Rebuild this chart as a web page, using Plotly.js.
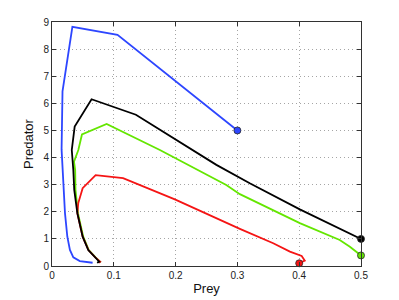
<!DOCTYPE html>
<html>
<head>
<meta charset="utf-8">
<script src="https://cdn.plot.ly/plotly-3.0.1.min.js"></script>
<style>html,body{margin:0;padding:0;background:#fff;}#chart{width:399px;height:300px;}</style>
</head>
<body>
<div id="chart"></div>
<script>
// Trajectories (Prey, Predator)
const blueX = [0.3, 0.106, 0.033, 0.017, 0.0155, 0.0173, 0.0183, 0.021, 0.0248, 0.029, 0.0345, 0.045, 0.0657];
const blueY = [5.0, 8.53, 8.82, 6.44, 4.3, 3.54, 2.81, 1.95, 1.08, 0.59, 0.32, 0.18, 0.12];

const blackX = [0.5, 0.401, 0.32, 0.266, 0.1358, 0.064, 0.0367, 0.032, 0.0345, 0.036, 0.041, 0.0496, 0.0587, 0.0695, 0.0765, 0.073];
const blackY = [1.0, 2.09, 3.05, 3.73, 5.58, 6.15, 5.14, 4.28, 3.54, 2.81, 1.95, 1.08, 0.59, 0.32, 0.16, 0.12];

const greenX = [0.5, 0.482, 0.4656, 0.401, 0.304, 0.282, 0.1746, 0.0884, 0.0485, 0.0426, 0.0356, 0.0375, 0.038, 0.042, 0.0505, 0.0595, 0.0705, 0.0775, 0.074];
const greenY = [0.39, 0.71, 0.96, 1.58, 2.65, 2.99, 4.28, 5.24, 4.85, 4.28, 3.85, 3.54, 2.81, 1.95, 1.08, 0.59, 0.32, 0.16, 0.13];

const redX = [0.4, 0.409, 0.404, 0.385, 0.358, 0.304, 0.1988, 0.115, 0.0706, 0.0496, 0.0425, 0.041, 0.0496, 0.059, 0.07, 0.078, 0.076];
const redY = [0.1, 0.2, 0.37, 0.53, 0.84, 1.37, 2.46, 3.24, 3.35, 2.87, 2.32, 1.95, 1.08, 0.59, 0.32, 0.16, 0.12];

const xTicks = [0, 0.1, 0.2, 0.3, 0.4, 0.5];
const xTickText = ['0', '0.1', '0.2', '0.3', '0.4', '0.5'];
const yTicks = [0, 1, 2, 3, 4, 5, 6, 7, 8, 9];

const BLUE = 'rgb(45,70,255)';
const BLACK = 'rgb(0,0,0)';
const GREEN = 'rgb(100,230,0)';
const RED = 'rgb(245,20,20)';

function line(x, y, c) {
  return {x: x, y: y, mode: 'lines', type: 'scatter', line: {color: c, width: 1.8}, hoverinfo: 'skip'};
}
function start(x, y, c) {
  return {x: [x[0]], y: [y[0]], mode: 'markers', type: 'scatter', cliponaxis: false,
    marker: {color: c, size: 7, line: {color: 'rgb(40,40,40)', width: 0.8}}, hoverinfo: 'skip'};
}

const data = [
  line(greenX, greenY, GREEN),
  line(redX, redY, RED),
  line(blackX, blackY, BLACK),
  line(blueX, blueY, BLUE),
  start(blueX, blueY, BLUE),
  start(blackX, blackY, BLACK),
  start(greenX, greenY, GREEN),
  start(redX, redY, RED)
];

const FONT = 'Liberation Sans, Arial, sans-serif';
const axisCommon = {
  showline: true, mirror: 'ticks', linecolor: 'rgb(50,50,50)', linewidth: 1,
  ticks: 'inside', ticklen: 4, tickcolor: 'rgb(50,50,50)',
  showgrid: true, gridcolor: 'rgb(165,165,165)', griddash: '1px,3px', gridwidth: 1,
  zeroline: false, tickfont: {family: FONT, size: 10, color: '#222'}
};

const layout = {
  width: 399, height: 300,
  margin: {l: 52, r: 38, t: 22, b: 34},
  paper_bgcolor: '#fff', plot_bgcolor: '#fff',
  showlegend: false,
  xaxis: Object.assign({}, axisCommon, {
    range: [0, 0.5], tickvals: xTicks, ticktext: xTickText,
    title: {text: 'Prey', font: {family: FONT, size: 13, color: '#111'}, standoff: 3}
  }),
  yaxis: Object.assign({}, axisCommon, {
    range: [0, 9], tickvals: yTicks,
    title: {text: 'Predator', font: {family: FONT, size: 13, color: '#111'}, standoff: 6}
  })
};

Plotly.newPlot('chart', data, layout, {staticPlot: true, displayModeBar: false});
</script>
</body>
</html>
